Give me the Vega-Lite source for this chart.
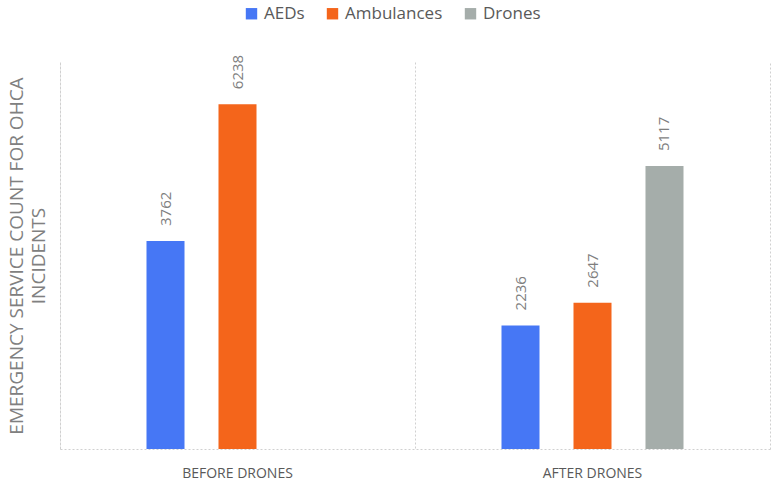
{
  "$schema": "https://vega.github.io/schema/vega-lite/v6.json",
  "width": 710,
  "height": 387,
  "autosize": {"type": "none"},
  "padding": {"left": 60, "top": 62, "right": 3, "bottom": 35},
  "config": {"view": {"stroke": null}, "font": "Open Sans"},
  "data": {
    "values": [
      {"group": "BEFORE DRONES", "service": "AEDs", "value": 3762},
      {"group": "BEFORE DRONES", "service": "Ambulances", "value": 6238},
      {"group": "AFTER DRONES", "service": "AEDs", "value": 2236},
      {"group": "AFTER DRONES", "service": "Ambulances", "value": 2647},
      {"group": "AFTER DRONES", "service": "Drones", "value": 5117}
    ]
  },
  "encoding": {
    "x": {
      "field": "group",
      "type": "nominal",
      "sort": ["BEFORE DRONES", "AFTER DRONES"],
      "scale": {"paddingInner": 0.4873, "paddingOuter": 0.24365},
      "axis": {
        "title": null,
        "labelAngle": 0,
        "labelFontSize": 14,
        "labelColor": "#595959",
        "labelPadding": 17,
        "ticks": false,
        "grid": true,
        "bandPosition": -0.475,
        "gridDash": [2, 2],
        "gridColor": "#d0d0d0",
        "domainDash": [2, 2],
        "domainColor": "#d0d0d0"
      }
    },
    "xOffset": {
      "field": "service",
      "type": "nominal",
      "sort": ["AEDs", "Ambulances", "Drones"],
      "scale": {"paddingInner": 0.472, "paddingOuter": 0}
    }
  },
  "layer": [
    {
      "mark": {"type": "bar"},
      "encoding": {
        "y": {
          "field": "value",
          "type": "quantitative",
          "scale": {"domain": [0, 7000], "nice": false},
          "axis": {
            "title": ["EMERGENCY SERVICE COUNT FOR OHCA", "INCIDENTS"],
            "titleFontSize": 19,
            "titleFontWeight": "normal",
            "titleColor": "#808080",
            "titleLineHeight": 22,
            "titlePadding": 12,
            "labels": false,
            "ticks": false,
            "grid": false,
            "domainDash": [2, 2],
            "domainColor": "#d0d0d0"
          }
        },
        "color": {
          "field": "service",
          "type": "nominal",
          "sort": ["AEDs", "Ambulances", "Drones"],
          "scale": {"domain": ["AEDs", "Ambulances", "Drones"], "range": ["#4677F5", "#F4651B", "#A5ADAA"]},
          "legend": {
            "title": null,
            "orient": "none",
            "legendX": 183,
            "legendY": -57,
            "direction": "horizontal",
            "symbolType": "square",
            "symbolSize": 130,
            "symbolStrokeWidth": 0,
            "labelFontSize": 17,
            "labelColor": "#595959",
            "columnPadding": 19,
            "labelOffset": 4
          }
        }
      }
    },
    {
      "mark": {"type": "text", "angle": 270, "align": "left", "baseline": "middle", "dx": 15, "fontSize": 15, "color": "#7f7f7f"},
      "encoding": {
        "y": {
          "field": "value",
          "type": "quantitative",
          "scale": {"domain": [0, 7000], "nice": false},
          "axis": {
            "orient": "right",
            "title": null,
            "labels": false,
            "ticks": false,
            "grid": false,
            "domainDash": [2, 2],
            "domainColor": "#d0d0d0"
          }
        },
        "text": {"field": "value", "type": "quantitative", "format": "d"}
      }
    }
  ],
  "resolve": {"scale": {"y": "independent"}}
}
